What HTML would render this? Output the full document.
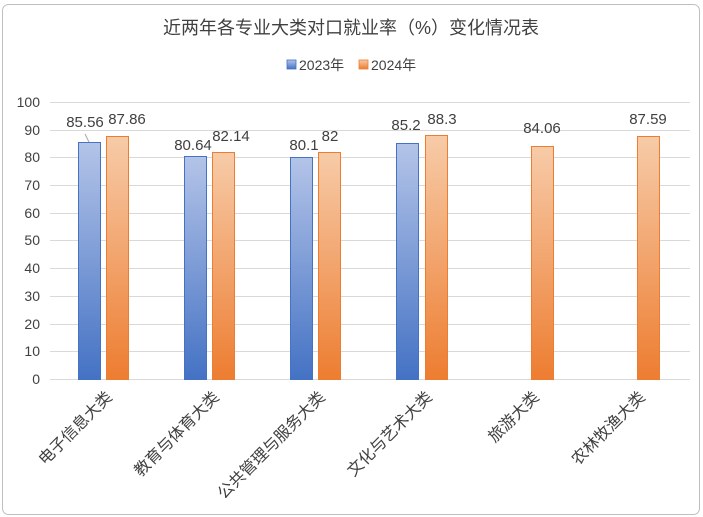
<!DOCTYPE html>
<html><head><meta charset="utf-8"><style>
body{margin:0;background:#fff;}
svg{display:block;font-family:"Liberation Sans","Noto Sans CJK SC",sans-serif;}
</style></head><body>
<svg width="703" height="517" viewBox="0 0 703 517">
<defs>
<linearGradient id="b" x1="0" y1="0" x2="0" y2="1"><stop offset="0" stop-color="#b4c4e8"/><stop offset="1" stop-color="#4472c4"/></linearGradient>
<linearGradient id="o" x1="0" y1="0" x2="0" y2="1"><stop offset="0" stop-color="#f7cba8"/><stop offset="1" stop-color="#ed7d31"/></linearGradient>
</defs>
<rect x="2.5" y="4.5" width="697" height="510" rx="6" fill="#fff" stroke="#bfbfbf"/>
<text x="351" y="34" font-size="18" fill="#404040" text-anchor="middle">近两年各专业大类对口就业率（%）变化情况表</text>
<rect x="287" y="60" width="9" height="9" fill="url(#b)" stroke="#4472c4" stroke-width="0.8"/>
<text x="299" y="70" font-size="14" fill="#404040">2023年</text>
<rect x="359" y="60" width="9" height="9" fill="url(#o)" stroke="#ed7d31" stroke-width="0.8"/>
<text x="371" y="70" font-size="14" fill="#404040">2024年</text>
<g stroke="#d9d9d9" stroke-width="1">
<line x1="50" x2="690" y1="102.5" y2="102.5"/><line x1="50" x2="690" y1="130.5" y2="130.5"/><line x1="50" x2="690" y1="157.5" y2="157.5"/><line x1="50" x2="690" y1="185.5" y2="185.5"/><line x1="50" x2="690" y1="213.5" y2="213.5"/><line x1="50" x2="690" y1="240.5" y2="240.5"/><line x1="50" x2="690" y1="268.5" y2="268.5"/><line x1="50" x2="690" y1="296.5" y2="296.5"/><line x1="50" x2="690" y1="324.5" y2="324.5"/><line x1="50" x2="690" y1="351.5" y2="351.5"/><line x1="50" x2="690" y1="379.5" y2="379.5"/>
</g>
<g font-size="14" fill="#404040" text-anchor="end">
<text x="40" y="107">100</text><text x="40" y="135">90</text><text x="40" y="162">80</text><text x="40" y="190">70</text><text x="40" y="218">60</text><text x="40" y="245">50</text><text x="40" y="273">40</text><text x="40" y="301">30</text><text x="40" y="329">20</text><text x="40" y="356">10</text><text x="40" y="384">0</text>
</g>
<g stroke-width="1">
<rect x="78.5" y="142.5" width="22" height="237" fill="url(#b)" stroke="#4472c4"/>
<rect x="106.5" y="136.5" width="22" height="243" fill="url(#o)" stroke="#ed7d31"/>
<rect x="184.5" y="156.5" width="22" height="223" fill="url(#b)" stroke="#4472c4"/>
<rect x="212.5" y="152.5" width="22" height="227" fill="url(#o)" stroke="#ed7d31"/>
<rect x="290.5" y="157.5" width="22" height="222" fill="url(#b)" stroke="#4472c4"/>
<rect x="318.5" y="152.5" width="22" height="227" fill="url(#o)" stroke="#ed7d31"/>
<rect x="396.5" y="143.5" width="22" height="236" fill="url(#b)" stroke="#4472c4"/>
<rect x="425.5" y="135.5" width="22" height="244" fill="url(#o)" stroke="#ed7d31"/>
<rect x="531.5" y="146.5" width="22" height="233" fill="url(#o)" stroke="#ed7d31"/>
<rect x="637.5" y="136.5" width="22" height="243" fill="url(#o)" stroke="#ed7d31"/>
</g>
<line x1="85" y1="134" x2="89" y2="142" stroke="#a6a6a6"/>
<g font-size="15" fill="#404040" text-anchor="middle">
<text x="85" y="127">85.56</text><text x="127" y="124">87.86</text>
<text x="193" y="150">80.64</text><text x="231" y="141">82.14</text>
<text x="304" y="150">80.1</text><text x="330" y="141">82</text>
<text x="406" y="130">85.2</text><text x="442" y="124">88.3</text>
<text x="542" y="133">84.06</text><text x="648" y="124">87.59</text>
</g>
<g font-size="16" fill="#404040" text-anchor="end">
<text transform="translate(113,398) rotate(-45)">电子信息大类</text>
<text transform="translate(220,398) rotate(-45)">教育与体育大类</text>
<text transform="translate(326,398) rotate(-45)">公共管理与服务大类</text>
<text transform="translate(433,398) rotate(-45)">文化与艺术大类</text>
<text transform="translate(540,398) rotate(-45)">旅游大类</text>
<text transform="translate(646,398) rotate(-45)">农林牧渔大类</text>
</g>
</svg>
</body></html>
